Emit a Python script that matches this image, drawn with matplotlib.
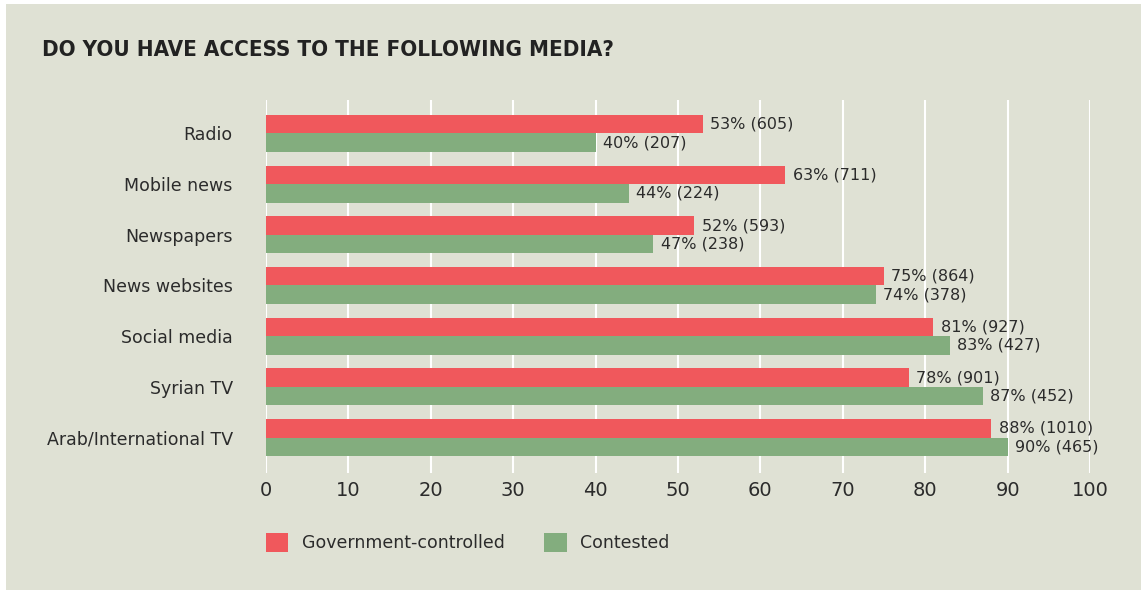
import matplotlib.pyplot as plt
from matplotlib.patches import Rectangle
import numpy as np

categories = ['Radio', 'Mobile news', 'Newspapers', 'News websites',
              'Social media', 'Syrian TV', 'Arab/International TV']
gov_pct = [53, 63, 52, 75, 81, 78, 88]
gov_n = [605, 711, 593, 864, 927, 901, 1010]
con_pct = [40, 44, 47, 74, 83, 87, 90]
con_n = [207, 224, 238, 378, 427, 452, 465]
ticks = [0, 10, 20, 30, 40, 50, 60, 70, 80, 90, 100]

RED = '#f0585c'
GREEN = '#83ad7e'
BG = '#dfe1d4'
TXT = '#2b2b2b'

W, H = 1147, 594
fig = plt.figure(figsize=(W / 100, H / 100), dpi=100, facecolor='white')
# panel behind everything
fig.add_artist(Rectangle((6 / W, 4 / H), 1135 / W, 586 / H,
                         transform=fig.transFigure, facecolor=BG,
                         edgecolor='none', zorder=-10))

ax = fig.add_axes([266 / W, 1 - 473 / H, (1090 - 266) / W, (473 - 100) / H])
ax.set_facecolor('none')

y = np.arange(len(categories))
h = 0.365
ax.barh(y - h / 2, gov_pct, height=h, color=RED, zorder=2,
        label='Government-controlled')
ax.barh(y + h / 2, con_pct, height=h, color=GREEN, zorder=2,
        label='Contested')

for i in range(len(categories)):
    ax.text(gov_pct[i] + 0.9, y[i] - h / 2, f'{gov_pct[i]}% ({gov_n[i]})',
            va='center', ha='left', fontsize=11.5, color=TXT)
    ax.text(con_pct[i] + 0.9, y[i] + h / 2, f'{con_pct[i]}% ({con_n[i]})',
            va='center', ha='left', fontsize=11.5, color=TXT)

ax.set_xlim(0, 100)
ax.set_ylim(6.70, -0.66)
ax.set_xticks(ticks)
ax.set_yticks(y)
ax.set_yticklabels(categories)
ax.tick_params(axis='y', length=0, pad=24, labelsize=12.5, labelcolor=TXT)
ax.tick_params(axis='x', length=0, pad=6, labelsize=14, labelcolor=TXT)
ax.grid(axis='x', color='white', linewidth=1.5, zorder=1)
for s in ax.spines.values():
    s.set_visible(False)

fig.text(42 / W, 1 - 50 / H, 'DO YOU HAVE ACCESS TO THE FOLLOWING MEDIA?',
         fontsize=16, fontweight='bold', fontstretch='condensed', color='#222222',
         va='center', ha='left')

fig.legend(loc='upper left', bbox_to_anchor=(250 / W, 1 - 517 / H), ncol=2,
           frameon=False, fontsize=12.5, handlelength=1.3, handleheight=1.3,
           columnspacing=2.25, handletextpad=0.8, labelcolor=TXT)

fig.savefig('out.png', dpi=100, facecolor='white')
